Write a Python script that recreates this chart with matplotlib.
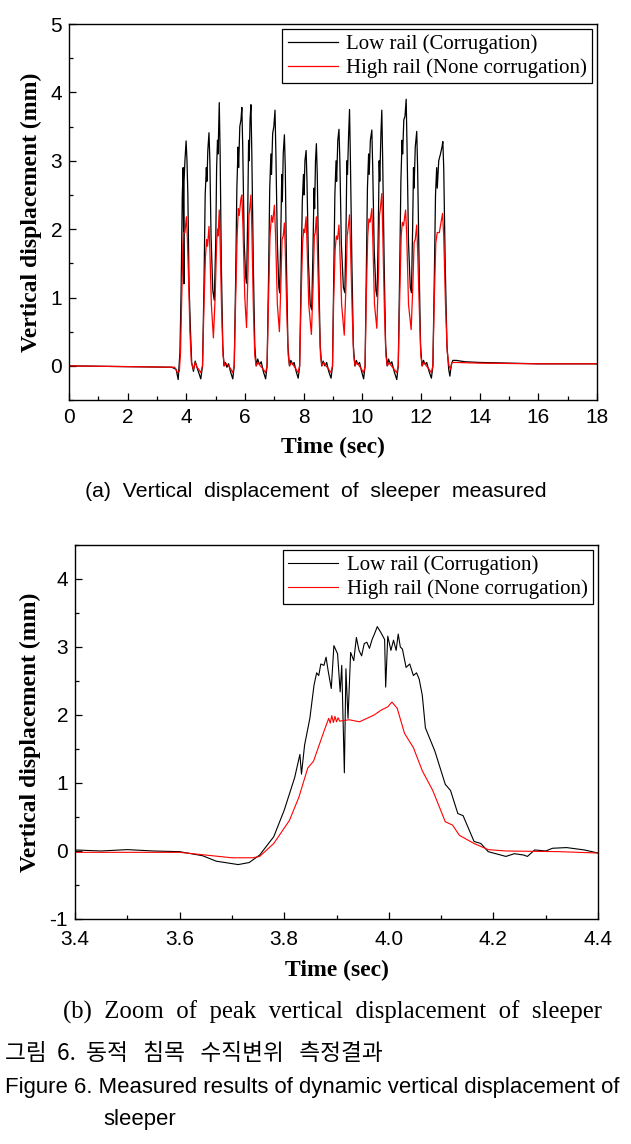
import matplotlib
matplotlib.use("Agg")
import matplotlib.pyplot as plt
from matplotlib.ticker import MultipleLocator, FormatStrFormatter

plt.rcParams["axes.unicode_minus"] = False

# ---- panel (a): whole passage, 0-18 s ----
t_low_a = [
    0.0, 3.5, 3.65, 3.72, 3.78,
    3.82, 3.86, 3.89, 3.915, 3.92, 3.95, 3.99, 4.02, 4.05, 4.09, 4.14, 4.18,
    4.24, 4.30, 4.36, 4.42, 4.49, 4.55,
    4.60, 4.64, 4.68, 4.70, 4.73, 4.77, 4.80, 4.84, 4.90, 4.95, 5.00, 5.03, 5.06, 5.08, 5.12, 5.15, 5.19, 5.24,
    5.28, 5.33, 5.38, 5.44, 5.50, 5.58, 5.63,
    5.68, 5.72, 5.76, 5.78, 5.82, 5.86, 5.89, 5.92, 5.97, 6.02, 6.05, 6.09, 6.12, 6.14, 6.17, 6.20, 6.23, 6.28,
    6.33, 6.38, 6.43, 6.49, 6.55, 6.62, 6.70, 6.75,
    6.80, 6.84, 6.88, 6.90, 6.94, 6.98, 7.02, 7.05, 7.10, 7.15, 7.18, 7.22, 7.25, 7.27, 7.30, 7.34, 7.37, 7.41,
    7.46, 7.51, 7.56, 7.62, 7.67, 7.74, 7.81, 7.86,
    7.91, 7.95, 7.99, 8.01, 8.04, 8.08, 8.11, 8.16, 8.22, 8.27, 8.31, 8.35, 8.37, 8.40, 8.43, 8.46, 8.51,
    8.56, 8.61, 8.66, 8.72, 8.78, 8.85, 8.93, 8.98,
    9.02, 9.06, 9.10, 9.12, 9.16, 9.20, 9.23, 9.28, 9.35, 9.40, 9.44, 9.47, 9.49, 9.53, 9.56, 9.59, 9.64,
    9.69, 9.74, 9.79, 9.85, 9.90, 9.97, 10.04, 10.09,
    10.13, 10.17, 10.21, 10.23, 10.27, 10.32, 10.35, 10.40, 10.46, 10.50, 10.54, 10.57, 10.59, 10.63, 10.66, 10.69, 10.74,
    10.79, 10.84, 10.89, 10.95, 11.00, 11.08, 11.17, 11.22,
    11.27, 11.31, 11.35, 11.37, 11.41, 11.45, 11.49, 11.52, 11.57, 11.63, 11.67, 11.71, 11.74, 11.76, 11.80, 11.85, 11.88, 11.93,
    11.98, 12.03, 12.08, 12.14, 12.19, 12.27, 12.35, 12.40,
    12.45, 12.49, 12.53, 12.55, 12.60, 12.66, 12.71, 12.74, 12.77, 12.82, 12.88, 12.94, 12.98, 13.03, 13.08,
    13.2, 13.5, 14.0, 15.0, 16.0, 18.0,
]
v_low_a = [
    0.0, -0.02, -0.05, -0.2, 0.2,
    1.1, 2.5, 2.9, 1.2, 2.7, 3.0, 3.29, 3.0, 2.5, 1.2, 0.5, 0.05,
    -0.08, 0.07, -0.02, -0.1, -0.19, 0.0,
    1.2, 2.5, 2.9, 2.7, 3.15, 3.41, 3.0, 1.9, 1.1, 0.96, 1.8, 2.9, 3.3, 3.1, 3.85, 3.1, 1.5, 0.3,
    0.0, 0.05, -0.02, 0.03, -0.08, -0.19, 0.0,
    1.3, 2.6, 3.2, 2.9, 3.5, 3.6, 3.78, 3.2, 1.8, 1.3, 1.21, 2.2, 3.3, 3.0, 3.6, 3.82, 3.1, 1.5,
    0.3, 0.0, 0.1, 0.02, 0.06, -0.08, -0.19, 0.0,
    1.3, 2.6, 3.1, 2.8, 3.4, 3.5, 3.74, 3.1, 1.8, 1.15, 1.07, 2.0, 2.8, 2.4, 3.1, 3.38, 2.9, 1.5,
    0.3, 0.0, 0.08, 0.02, 0.05, -0.08, -0.18, 0.0,
    1.3, 2.4, 2.8, 2.5, 3.0, 3.15, 2.7, 1.5, 0.9, 0.82, 1.6, 2.6, 2.3, 3.0, 3.25, 2.8, 1.4,
    0.3, 0.0, 0.07, 0.0, 0.05, -0.08, -0.18, 0.0,
    1.3, 2.5, 3.0, 2.7, 3.3, 3.46, 3.0, 1.8, 1.15, 1.07, 2.0, 3.0, 2.8, 3.4, 3.75, 3.0, 1.5,
    0.3, 0.0, 0.08, 0.02, 0.05, -0.08, -0.19, 0.0,
    1.3, 2.6, 3.1, 2.8, 3.3, 3.45, 2.9, 1.7, 1.1, 1.01, 2.0, 3.0, 2.7, 3.4, 3.74, 3.0, 1.5,
    0.3, 0.0, 0.1, 0.02, 0.06, -0.08, -0.2, 0.0,
    1.4, 2.7, 3.3, 3.1, 3.6, 3.65, 3.9, 3.2, 1.8, 1.15, 1.07, 2.0, 2.9, 2.6, 3.2, 3.43, 2.9, 1.5,
    0.3, 0.0, 0.08, 0.02, 0.05, -0.08, -0.18, 0.0,
    1.3, 2.5, 2.9, 2.6, 3.0, 3.1, 3.2, 3.28, 2.9, 1.5, 0.3, -0.05, -0.15, 0.02, 0.08,
    0.08, 0.06, 0.05, 0.04, 0.03, 0.03,
]

t_high_a = [
    0.0, 3.6, 3.7, 3.76, 3.8,
    3.84, 3.88, 3.90, 3.95, 4.0, 4.03, 4.08, 4.12, 4.17, 4.24, 4.30, 4.36, 4.42, 4.49, 4.55,
    4.60, 4.65, 4.69, 4.72, 4.77, 4.80, 4.85, 4.92, 4.98, 5.03, 5.06, 5.08, 5.12, 5.15, 5.20, 5.25,
    5.30, 5.36, 5.44, 5.52, 5.58, 5.63,
    5.68, 5.73, 5.77, 5.80, 5.86, 5.89, 5.93, 5.99, 6.05, 6.10, 6.13, 6.16, 6.20, 6.23, 6.28, 6.33,
    6.38, 6.44, 6.52, 6.62, 6.70, 6.75,
    6.80, 6.85, 6.90, 6.94, 7.00, 7.04, 7.10, 7.17, 7.22, 7.26, 7.30, 7.34, 7.37, 7.42, 7.47,
    7.52, 7.58, 7.66, 7.74, 7.81, 7.86,
    7.91, 7.96, 8.00, 8.03, 8.08, 8.11, 8.17, 8.26, 8.32, 8.36, 8.39, 8.43, 8.46, 8.52, 8.57,
    8.62, 8.68, 8.76, 8.85, 8.93, 8.98,
    9.02, 9.07, 9.11, 9.15, 9.20, 9.23, 9.29, 9.38, 9.44, 9.48, 9.51, 9.56, 9.59, 9.65, 9.70,
    9.75, 9.81, 9.89, 9.97, 10.04, 10.09,
    10.13, 10.18, 10.22, 10.26, 10.32, 10.35, 10.41, 10.49, 10.55, 10.58, 10.61, 10.66, 10.69, 10.75, 10.80,
    10.85, 10.91, 10.99, 11.08, 11.17, 11.22,
    11.27, 11.32, 11.36, 11.40, 11.47, 11.51, 11.57, 11.66, 11.72, 11.76, 11.80, 11.85, 11.88, 11.94, 11.99,
    12.04, 12.10, 12.18, 12.27, 12.35, 12.40,
    12.45, 12.50, 12.55, 12.62, 12.68, 12.73, 12.77, 12.83, 12.89, 12.95, 13.0, 13.05,
    13.2, 14.0, 16.0, 18.0,
]
v_high_a = [
    0.0, -0.02, -0.1, -0.08, 0.2,
    1.0, 1.75, 1.95, 1.95, 2.18, 1.9, 1.2, 0.5, 0.05, -0.05, 0.05, -0.02, -0.05, -0.1, 0.0,
    0.9, 1.6, 1.85, 1.75, 2.04, 1.7, 0.9, 0.41, 1.0, 1.8, 2.0, 1.9, 2.28, 1.8, 0.8, 0.15,
    0.0, 0.03, 0.0, -0.05, -0.1, 0.0,
    1.0, 1.9, 2.3, 2.2, 2.45, 2.5, 2.0, 1.0, 0.56, 1.4, 2.2, 2.3, 2.5, 2.0, 0.9, 0.15,
    0.0, 0.05, 0.0, -0.05, -0.1, 0.0,
    1.0, 1.9, 2.2, 2.1, 2.35, 1.9, 0.9, 0.5, 1.2, 1.85, 1.9, 2.09, 1.7, 0.8, 0.15,
    0.0, 0.05, 0.0, -0.05, -0.1, 0.0,
    1.0, 1.8, 2.0, 1.95, 2.18, 1.8, 0.9, 0.46, 1.2, 1.9, 1.95, 2.18, 1.8, 0.8, 0.15,
    0.0, 0.05, 0.0, -0.05, -0.1, 0.0,
    1.0, 1.7, 1.9, 1.85, 2.06, 1.7, 0.9, 0.45, 1.2, 1.9, 2.0, 2.21, 1.8, 0.8, 0.15,
    0.0, 0.05, 0.0, -0.05, -0.1, 0.0,
    1.0, 1.9, 2.15, 2.1, 2.3, 1.9, 0.9, 0.55, 1.4, 2.2, 2.3, 2.52, 2.0, 0.8, 0.15,
    0.0, 0.05, 0.0, -0.05, -0.1, 0.0,
    1.0, 1.9, 2.1, 2.05, 2.28, 1.9, 0.9, 0.53, 1.2, 1.8, 1.85, 2.06, 1.7, 0.8, 0.15,
    0.0, 0.05, 0.0, -0.05, -0.1, 0.0,
    1.0, 1.8, 1.95, 1.95, 2.1, 2.23, 1.9, 0.9, 0.2, 0.0, -0.05, 0.05,
    0.05, 0.04, 0.03, 0.03,
]

# ---- panel (b): zoom on the first peak, 3.4-4.4 s ----
t_low_b = [
    3.40, 3.45, 3.50, 3.55, 3.60, 3.644, 3.67, 3.712, 3.733, 3.753, 3.78, 3.80, 3.82, 3.83, 3.833, 3.839,
    3.849, 3.857, 3.862, 3.866, 3.870, 3.876, 3.88, 3.884, 3.89, 3.895, 3.902, 3.907, 3.91, 3.915, 3.918, 3.922,
    3.927, 3.933, 3.938, 3.943, 3.948, 3.953, 3.958, 3.963, 3.968, 3.973, 3.978, 3.985, 3.992, 3.994, 3.998,
    4.004, 4.009, 4.014, 4.018, 4.022, 4.026,
    4.033, 4.040, 4.047, 4.053, 4.058, 4.064, 4.07, 4.088, 4.108, 4.118, 4.132, 4.142, 4.163, 4.176, 4.19,
    4.224, 4.24, 4.258, 4.265, 4.279, 4.30, 4.313, 4.34, 4.374, 4.40,
]
v_low_b = [
    0.015, 0.0, 0.02, 0.0, -0.01, -0.07, -0.15, -0.2, -0.17, -0.06, 0.21, 0.6, 1.08, 1.42, 1.13, 1.56,
    1.95, 2.44, 2.62, 2.58, 2.75, 2.73, 2.85, 2.65, 2.39, 3.02, 2.9, 2.34, 2.73, 1.15, 2.68, 1.95,
    2.92, 2.8, 3.14, 2.95, 2.87, 3.05, 3.07, 2.98, 3.11, 3.2, 3.30, 3.21, 3.11, 2.41, 3.16,
    2.95, 3.1, 2.95, 3.19, 3.0, 2.97,
    2.70, 2.75, 2.58, 2.62, 2.53, 2.29, 1.81, 1.47, 0.98, 0.89, 0.55, 0.52, 0.14, 0.11, -0.01,
    -0.08, -0.04, -0.06, -0.08, 0.015, 0.0, 0.04, 0.05, 0.015, -0.03,
]

t_high_b = [
    3.40, 3.60, 3.65, 3.70, 3.74, 3.753, 3.78, 3.81, 3.828, 3.845, 3.856, 3.876, 3.885, 3.888,
    3.891, 3.894, 3.897, 3.900, 3.903, 3.906, 3.924, 3.944, 3.958, 3.972, 3.985, 3.998, 4.006,
    4.016, 4.03, 4.047, 4.064, 4.084, 4.108, 4.122, 4.135, 4.163, 4.19, 4.224, 4.326, 4.40,
]
v_high_b = [
    -0.02, -0.02, -0.06, -0.1, -0.1, -0.08, 0.11, 0.45, 0.79, 1.22, 1.32, 1.76, 1.95, 1.88,
    1.99, 1.89, 1.98, 1.90, 1.96, 1.91, 1.93, 1.90, 1.95, 2.0, 2.07, 2.12, 2.19,
    2.10, 1.73, 1.52, 1.18, 0.89, 0.43, 0.38, 0.23, 0.11, 0.02, 0.0, -0.01, -0.03,
]

low_label = "Low rail (Corrugation)"
high_label = "High rail (None corrugation)"

SERIF = ["Liberation Serif", "DejaVu Serif"]
SANS = ["Liberation Sans", "DejaVu Sans"]


def style_axes(ax, xpad, labelpad):
    ax.tick_params(which="both", direction="in", top=False, right=False, labelsize=15)
    ax.tick_params(which="major", length=5, width=0.9, pad=5)
    ax.tick_params(which="minor", length=3, width=0.9)
    ax.tick_params(axis="x", which="major", pad=xpad)
    for lab in ax.get_xticklabels() + ax.get_yticklabels():
        lab.set_family(SANS)
    for sp in ax.spines.values():
        sp.set_linewidth(1.0)
    ax.set_xlabel("Time (sec)", family=SERIF, fontweight="bold", fontsize=17, labelpad=labelpad)
    ax.set_ylabel("Vertical displacement (mm)", family=SERIF, fontweight="bold", fontsize=17, labelpad=6)
    leg = ax.legend(loc="upper right", prop={"family": SERIF, "size": 15},
                    fancybox=False, framealpha=1, edgecolor="black",
                    handlelength=2.4, handletextpad=0.4, borderpad=0.25, labelspacing=0.2,
                    borderaxespad=0.25)
    leg.get_frame().set_linewidth(0.9)


fig = plt.figure(figsize=(6.31, 11.44), dpi=100)

ax1 = fig.add_axes([0.1094, 0.6503, 0.837, 0.3287])
ax1.plot(t_low_a, v_low_a, color="black", lw=0.9, label=low_label)
ax1.plot(t_high_a, v_high_a, color="red", lw=0.9, label=high_label)
ax1.set_xlim(0, 18)
ax1.set_ylim(-0.5, 5)
ax1.xaxis.set_major_locator(MultipleLocator(2))
ax1.xaxis.set_minor_locator(MultipleLocator(1))
ax1.yaxis.set_major_locator(MultipleLocator(1))
ax1.yaxis.set_minor_locator(MultipleLocator(0.5))
style_axes(ax1, xpad=6, labelpad=7)

ax2 = fig.add_axes([0.1189, 0.1967, 0.8288, 0.3269])
ax2.plot(t_low_b, v_low_b, color="black", lw=0.8, label=low_label)
ax2.plot(t_high_b, v_high_b, color="red", lw=0.8, label=high_label)
ax2.set_xlim(3.4, 4.4)
ax2.set_ylim(-1, 4.5)
ax2.set_xticks([3.4, 3.6, 3.8, 4.0, 4.2, 4.4])
ax2.xaxis.set_major_formatter(FormatStrFormatter("%.1f"))
ax2.xaxis.set_minor_locator(MultipleLocator(0.1))
ax2.set_yticks([-1, 0, 1, 2, 3, 4])
ax2.yaxis.set_minor_locator(MultipleLocator(0.5))
style_axes(ax2, xpad=8, labelpad=8)

# captions
fig.text(0.500, 1 - 492 / 1144, "(a)  Vertical  displacement  of  sleeper  measured",
         ha="center", va="center", family=SANS, fontsize=15.3)
fig.text(0.527, 1 - 1012 / 1144, "(b)  Zoom  of  peak  vertical  displacement  of  sleeper",
         ha="center", va="center", family=SERIF, fontsize=17.8)
fig.text(0.008, 1 - 1054 / 1144, "그림  6.  동적   침목   수직변위   측정결과",
         ha="left", va="center", family=["Noto Sans CJK KR", "DejaVu Sans"], fontsize=16.3)
fig.text(0.008, 1 - 1088 / 1144, "Figure 6. Measured results of dynamic vertical displacement of",
         ha="left", va="center", family=SANS, fontsize=15.9)
fig.text(0.163, 1 - 1120 / 1144, "sleeper",
         ha="left", va="center", family=SANS, fontsize=15.9)

fig.savefig("out.png", dpi=100)
